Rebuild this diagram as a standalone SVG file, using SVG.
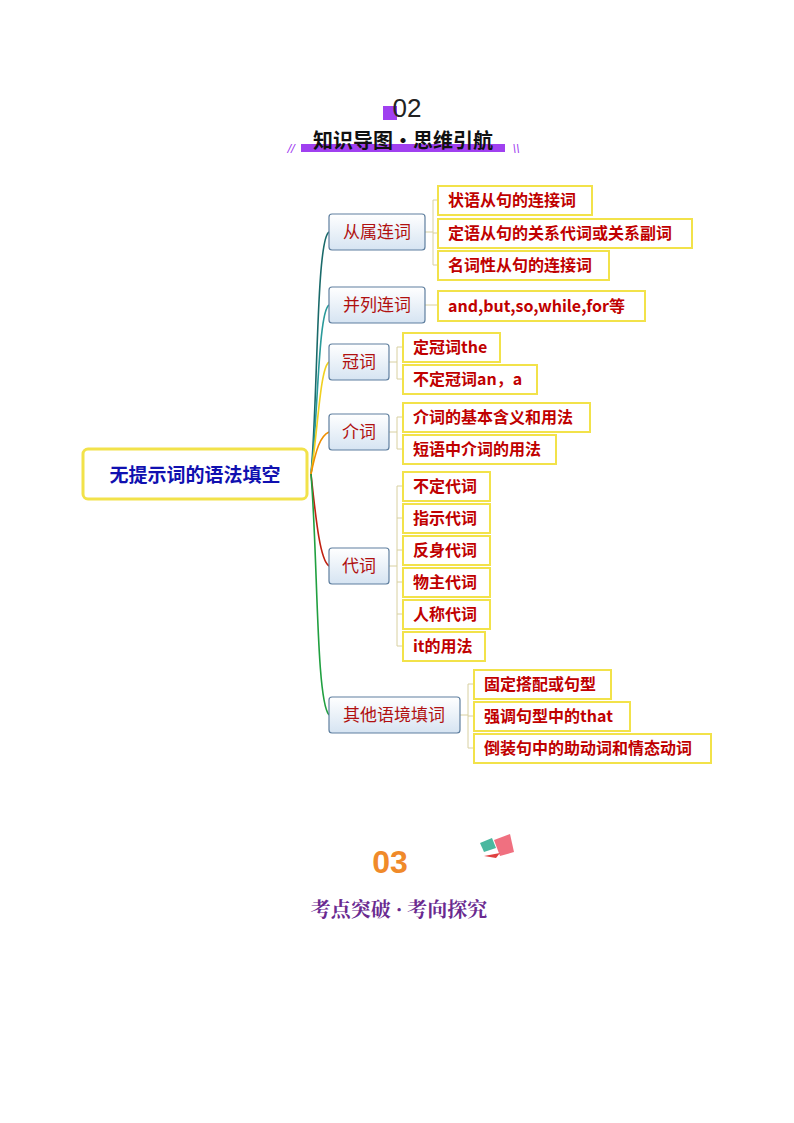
<svg xmlns="http://www.w3.org/2000/svg" width="794" height="1123" viewBox="0 0 794 1123">
<style>
.br{fill:url(#bg);stroke:#5f7f9f;stroke-width:1.2}
.bt{font-family:"Noto Sans CJK SC",sans-serif;font-size:17px;fill:#b01010}
.lf{fill:#fff;stroke:#f2e24a;stroke-width:2}
.lt{font-family:"Noto Sans CJK SC",sans-serif;font-size:16px;font-weight:bold;fill:#c00000}
.k{fill:none;stroke:#d8d0a0;stroke-width:1}
.c{fill:none;stroke-width:1.6}
</style>
<defs><linearGradient id="bg" x1="0" y1="0" x2="0" y2="1"><stop offset="0" stop-color="#ffffff"/><stop offset="1" stop-color="#d6e4f2"/></linearGradient></defs>
<rect width="794" height="1123" fill="#fff"/>
<g id="header02">
<rect x="383" y="106" width="14" height="14" fill="#a040f0"/>
<text x="407" y="117" text-anchor="middle" font-family="Liberation Sans,sans-serif" font-size="26" fill="#222">02</text>
<rect x="301" y="144" width="204" height="8" fill="#a040f0"/>
<text x="403" y="148" text-anchor="middle" font-family="Noto Sans CJK SC,sans-serif" font-size="20" font-weight="bold" fill="#111">知识导图•思维引航</text>
<text x="291" y="153" text-anchor="middle" font-family="Liberation Sans,sans-serif" font-size="13" fill="#a040f0" font-style="italic">//</text>
<text x="516" y="153" text-anchor="middle" font-family="Liberation Sans,sans-serif" font-size="13" fill="#a040f0" font-style="italic">\\</text>
</g>
<g id="connectors">
<path class="c" stroke="#1a6a6a" d="M311,474 C318,400 316,240 329,232"/>
<path class="c" stroke="#2a9a9a" d="M311,474 C318,420 318,312 329,305"/>
<path class="c" stroke="#f0d020" d="M311,474 C318,430 320,368 329,362"/>
<path class="c" stroke="#f09000" d="M311,474 C316,450 320,436 329,432"/>
<path class="c" stroke="#c02010" d="M311,474 C316,520 320,560 329,566"/>
<path class="c" stroke="#20a040" d="M311,474 C318,560 316,700 329,715"/>
<path class="k" d="M425,232 H433 M433,200 V265 M433,200 H438 M433,233 H438 M433,265 H438"/>
<path class="k" d="M425,305 H438"/>
<path class="k" d="M389,362 H397 M397,347 V379 M397,347 H403 M397,379 H403"/>
<path class="k" d="M389,432 H397 M397,417 V449 M397,417 H403 M397,449 H403"/>
<path class="k" d="M389,566 H397 M397,486 V646 M397,486 H403 M397,518 H403 M397,550 H403 M397,582 H403 M397,614 H403 M397,646 H403"/>
<path class="k" d="M460,715 H468 M468,684 V748 M468,684 H474 M468,716 H474 M468,748 H474"/>
</g>
<g id="root">
<rect x="83" y="449" width="224" height="50" rx="5" fill="#fff" stroke="#f2e24a" stroke-width="3"/>
<text x="195" y="482" text-anchor="middle" font-family="Noto Sans CJK SC,sans-serif" font-size="19" font-weight="bold" fill="#1010b0">无提示词的语法填空</text>
</g>
<g id="b1"><rect class="br" x="329" y="214" width="96" height="36" rx="3"/><text class="bt" x="377" y="238" text-anchor="middle">从属连词</text></g>
<g id="b2"><rect class="br" x="329" y="287" width="96" height="36" rx="3"/><text class="bt" x="377" y="311" text-anchor="middle">并列连词</text></g>
<g id="b3"><rect class="br" x="329" y="344" width="60" height="36" rx="3"/><text class="bt" x="359" y="368" text-anchor="middle">冠词</text></g>
<g id="b4"><rect class="br" x="329" y="414" width="60" height="36" rx="3"/><text class="bt" x="359" y="438" text-anchor="middle">介词</text></g>
<g id="b5"><rect class="br" x="329" y="548" width="60" height="36" rx="3"/><text class="bt" x="359" y="572" text-anchor="middle">代词</text></g>
<g id="b6"><rect class="br" x="329" y="697" width="131" height="36" rx="3"/><text class="bt" x="394" y="721" text-anchor="middle">其他语境填词</text></g>
<g id="l1"><rect class="lf" x="438" y="186" width="154" height="29"/><text class="lt" x="448" y="206">状语从句的连接词</text></g>
<g id="l2"><rect class="lf" x="438" y="219" width="254" height="29"/><text class="lt" x="448" y="239">定语从句的关系代词或关系副词</text></g>
<g id="l3"><rect class="lf" x="438" y="251" width="171" height="29"/><text class="lt" x="448" y="271">名词性从句的连接词</text></g>
<g id="l4"><rect class="lf" x="438" y="291" width="207" height="30"/><text class="lt" x="448" y="312">and,but,so,while,for等</text></g>
<g id="l5"><rect class="lf" x="403" y="333" width="97" height="29"/><text class="lt" x="413" y="353">定冠词the</text></g>
<g id="l6"><rect class="lf" x="403" y="365" width="134" height="29"/><text class="lt" x="413" y="385">不定冠词an，a</text></g>
<g id="l7"><rect class="lf" x="403" y="403" width="187" height="29"/><text class="lt" x="413" y="423">介词的基本含义和用法</text></g>
<g id="l8"><rect class="lf" x="403" y="435" width="153" height="29"/><text class="lt" x="413" y="455">短语中介词的用法</text></g>
<g id="l9"><rect class="lf" x="403" y="472" width="87" height="29"/><text class="lt" x="413" y="492">不定代词</text></g>
<g id="l10"><rect class="lf" x="403" y="504" width="87" height="29"/><text class="lt" x="413" y="524">指示代词</text></g>
<g id="l11"><rect class="lf" x="403" y="536" width="87" height="29"/><text class="lt" x="413" y="556">反身代词</text></g>
<g id="l12"><rect class="lf" x="403" y="568" width="87" height="29"/><text class="lt" x="413" y="588">物主代词</text></g>
<g id="l13"><rect class="lf" x="403" y="600" width="87" height="29"/><text class="lt" x="413" y="620">人称代词</text></g>
<g id="l14"><rect class="lf" x="403" y="632" width="82" height="29"/><text class="lt" x="413" y="652">it的用法</text></g>
<g id="l15"><rect class="lf" x="474" y="670" width="137" height="29"/><text class="lt" x="484" y="690">固定搭配或句型</text></g>
<g id="l16"><rect class="lf" x="474" y="702" width="156" height="29"/><text class="lt" x="484" y="722">强调句型中的that</text></g>
<g id="l17"><rect class="lf" x="474" y="734" width="237" height="29"/><text class="lt" x="484" y="754">倒装句中的助动词和情态动词</text></g>
<g id="header03">
<text x="390" y="873" text-anchor="middle" font-family="Liberation Sans,sans-serif" font-size="32" font-weight="bold" fill="#f08a2a">03</text>
<path d="M480,843 L492,838 L496,848 L484,852 Z" fill="#4ab8a0"/>
<path d="M494,840 L510,834 L514,852 L500,856 Z" fill="#f07080"/>
<path d="M484,856 L500,853 L496,858 Z" fill="#e04040"/>
<text x="399" y="917" text-anchor="middle" font-family="Noto Serif CJK SC,Noto Sans CJK SC,serif" font-size="20" font-weight="bold" fill="#6a2a90">考点突破 · 考向探究</text>
</g>
</svg>
